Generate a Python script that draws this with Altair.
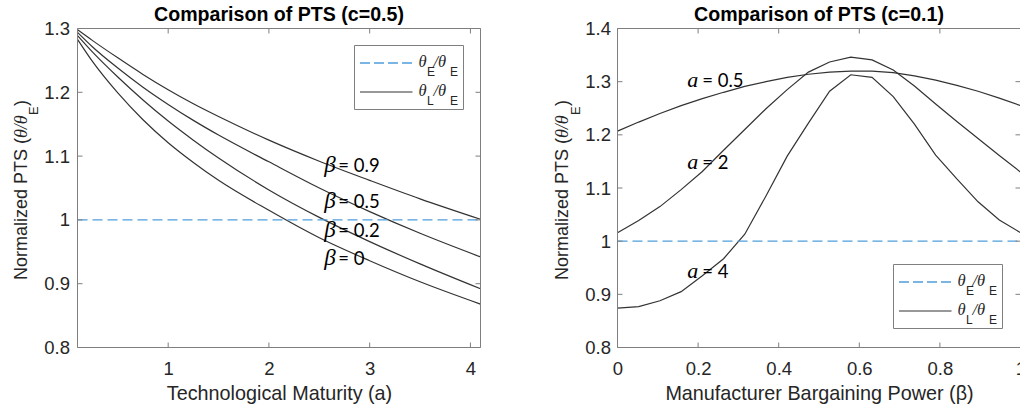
import altair as alt
import pandas as pd

# ---------------- data ----------------
# Left panel: Normalized PTS vs technological maturity a, c = 0.5
A_VALUES = [0.1, 0.25, 0.5, 0.75, 1.0, 1.25, 1.5, 2.0, 2.5, 3.0, 3.5, 4.1]
PTS_BETA_09 = [1.298, 1.281, 1.254, 1.228, 1.204, 1.182, 1.162, 1.125, 1.092, 1.062, 1.033, 1.001]
PTS_BETA_05 = [1.294, 1.271, 1.238, 1.208, 1.181, 1.156, 1.133, 1.091, 1.050, 1.013, 0.979, 0.942]
PTS_BETA_02 = [1.289, 1.263, 1.224, 1.188, 1.155, 1.125, 1.097, 1.047, 1.004, 0.966, 0.931, 0.892]
PTS_BETA_00 = [1.283, 1.248, 1.199, 1.157, 1.121, 1.090, 1.062, 1.015, 0.972, 0.936, 0.903, 0.868]
LEFT_CURVES = ["0.9", "0.5", "0.2", "0"]

# Right panel: Normalized PTS vs manufacturer bargaining power beta, c = 0.1
BETA_VALUES = [0.0, 0.0526, 0.1053, 0.1579, 0.2105, 0.2632, 0.3158, 0.3684, 0.4211, 0.4737,
               0.5263, 0.5789, 0.6316, 0.6842, 0.7368, 0.7895, 0.8421, 0.8947, 0.9474, 1.0]
PTS_A_05 = [1.207, 1.224, 1.240, 1.255, 1.268, 1.280, 1.291, 1.300, 1.308, 1.314,
            1.318, 1.320, 1.320, 1.317, 1.311, 1.303, 1.293, 1.282, 1.269, 1.255]
PTS_A_2 = [1.016, 1.039, 1.065, 1.097, 1.131, 1.171, 1.210, 1.249, 1.285, 1.318,
           1.337, 1.346, 1.341, 1.322, 1.292, 1.258, 1.225, 1.193, 1.161, 1.130]
PTS_A_4 = [0.874, 0.877, 0.888, 0.905, 0.935, 0.967, 1.013, 1.085, 1.160, 1.222,
           1.282, 1.313, 1.308, 1.272, 1.220, 1.162, 1.117, 1.074, 1.040, 1.016]
RIGHT_CURVES = ["0.5", "2", "4"]

E_RATIO = 1.0  # theta_E / theta_E

# axes
L_XDOMAIN = [0.1, 4.1]
L_YDOMAIN = [0.8, 1.3]
R_XDOMAIN = [0.0, 1.0]
R_YDOMAIN = [0.8, 1.4]
L_XTICKS = [1, 2, 3, 4]
L_YTICKS = [0.8, 0.9, 1.0, 1.1, 1.2, 1.3]
R_XTICKS = [0, 0.2, 0.4, 0.6, 0.8, 1]
R_YTICKS = [0.8, 0.9, 1.0, 1.1, 1.2, 1.3, 1.4]

# in-plot curve labels
L_LABEL_TEXT = ["= 0.9", "= 0.5", "= 0.2", "= 0"]
L_LABEL_A = [2.55, 2.55, 2.55, 2.55]
L_LABEL_V = [1.0748, 1.019, 0.9729, 0.930]
R_LABEL_TEXT = ["= 0.5", "= 2", "= 4"]
R_LABEL_B = [0.173, 0.173, 0.173]
R_LABEL_V = [1.2909, 1.1354, 0.9304]

TITLE_L = "Comparison of PTS (c=0.5)"
TITLE_R = "Comparison of PTS (c=0.1)"
XTITLE_L = "Technological Maturity (a)"
XTITLE_R = "Manufacturer Bargaining Power (β)"

# ---------------- styles ----------------
FONT = "Liberation Sans"
SERIF = "Liberation Serif"
LFONT = "Lato"
CURVE = "#333333"
BLUE = "#4f9ddb"
FRAME = "#7f7f7f"
TXT = "#262626"
PH = 319
L_RANGE = [0, 403]
R_RANGE = [540, 943]

LXS = alt.Scale(domain=L_XDOMAIN, range=L_RANGE, nice=False, zero=False)
LYS = alt.Scale(domain=L_YDOMAIN, range=[PH, 0], nice=False, zero=False)
RXS = alt.Scale(domain=R_XDOMAIN, range=R_RANGE, nice=False, zero=False)
RYS = alt.Scale(domain=R_YDOMAIN, range=[PH, 0], nice=False, zero=False)

ONE = pd.DataFrame({"k": [0]})


def xaxis(values, title):
    return alt.Axis(orient="bottom", values=values, format="~g", title=title,
                    labelFlush=False, labelPadding=12, tickSize=0, ticks=False,
                    domain=False, grid=False, titleBaseline="alphabetic", titleY=51.5,
                    labelFontSize=18.5, titleFontSize=19.8, labelFont=FONT, titleFont=FONT,
                    labelColor=TXT, titleColor=TXT, titleFontWeight="normal")


def yaxis(values, pad, offset=0):
    return alt.Axis(orient="left", values=values, format="~g", title=None, offset=offset,
                    labelPadding=pad, tickSize=0, ticks=False, domain=False, grid=False,
                    labelFontSize=18.5, labelFont=FONT, labelColor=TXT)


def long_df(xs, series, names, xname):
    rows = []
    for name, vals in zip(names, series):
        for x, v in zip(xs, vals):
            rows.append({xname: x, "v": v, "curve": name})
    return pd.DataFrame(rows)


layers = []

# ---------- left panel ----------
left_df = long_df(A_VALUES, [PTS_BETA_09, PTS_BETA_05, PTS_BETA_02, PTS_BETA_00], LEFT_CURVES, "a")
layers.append(alt.Chart(left_df).mark_line(color=CURVE, strokeWidth=1.2, interpolate="monotone").encode(
    x=alt.X("a:Q", scale=LXS, axis=xaxis(L_XTICKS, XTITLE_L)),
    y=alt.Y("v:Q", scale=LYS, axis=yaxis(L_YTICKS, 8)),
    detail="curve:N"))
left_ref = pd.DataFrame({"a": L_XDOMAIN, "v": [E_RATIO, E_RATIO]})
layers.append(alt.Chart(left_ref).mark_line(color=BLUE, strokeWidth=1.3, strokeDash=[10, 5]).encode(
    x=alt.X("a:Q", scale=LXS, axis=None), y=alt.Y("v:Q", scale=LYS, axis=None)))

# ---------- right panel ----------
right_df = long_df(BETA_VALUES, [PTS_A_05, PTS_A_2, PTS_A_4], RIGHT_CURVES, "b")
layers.append(alt.Chart(right_df).mark_line(color=CURVE, strokeWidth=1.2).encode(
    x=alt.X("b:Q", scale=RXS, axis=xaxis(R_XTICKS, XTITLE_R)),
    y=alt.Y("v:Q", scale=RYS, axis=yaxis(R_YTICKS, 7, offset=-540)),
    detail="curve:N"))
right_ref = pd.DataFrame({"b": R_XDOMAIN, "v": [E_RATIO, E_RATIO]})
layers.append(alt.Chart(right_ref).mark_line(color=BLUE, strokeWidth=1.3, strokeDash=[10, 5]).encode(
    x=alt.X("b:Q", scale=RXS, axis=None), y=alt.Y("v:Q", scale=RYS, axis=None)))


# ---------- frames and inward ticks ----------
def frame(xs, ys, xdom, ydom, xt, yt, x0, x1):
    out = []
    out.append(alt.Chart(ONE).mark_rect(fillOpacity=0, stroke=FRAME, strokeWidth=1).encode(
        x=alt.X(datum=xdom[0], scale=xs, axis=None), x2=alt.X2(datum=xdom[1]),
        y=alt.Y(datum=ydom[0], scale=ys, axis=None), y2=alt.Y2(datum=ydom[1])))
    tx = pd.DataFrame({"t": xt})
    ty = pd.DataFrame({"t": yt})
    out.append(alt.Chart(tx).mark_rule(color=FRAME, strokeWidth=1).encode(
        x=alt.X("t:Q", scale=xs, axis=None), y=alt.value(PH), y2=alt.value(PH - 5)))
    out.append(alt.Chart(tx).mark_rule(color=FRAME, strokeWidth=1).encode(
        x=alt.X("t:Q", scale=xs, axis=None), y=alt.value(0), y2=alt.value(5)))
    out.append(alt.Chart(ty).mark_rule(color=FRAME, strokeWidth=1).encode(
        y=alt.Y("t:Q", scale=ys, axis=None), x=alt.value(x0), x2=alt.value(x0 + 5)))
    out.append(alt.Chart(ty).mark_rule(color=FRAME, strokeWidth=1).encode(
        y=alt.Y("t:Q", scale=ys, axis=None), x=alt.value(x1), x2=alt.value(x1 - 5)))
    return out


layers += frame(LXS, LYS, L_XDOMAIN, L_YDOMAIN, L_XTICKS, L_YTICKS, L_RANGE[0], L_RANGE[1])
layers += frame(RXS, RYS, R_XDOMAIN, R_YDOMAIN, R_XTICKS, R_YTICKS, R_RANGE[0], R_RANGE[1])

# ---------- curve labels ----------
llab = pd.DataFrame({"a": L_LABEL_A, "v": L_LABEL_V, "t": L_LABEL_TEXT})
layers.append(alt.Chart(llab).mark_text(text="β", font=SERIF, fontStyle="italic", fontSize=23,
                                        align="left", baseline="alphabetic", color="#000000").encode(
    x=alt.X("a:Q", scale=LXS, axis=None), y=alt.Y("v:Q", scale=LYS, axis=None)))
layers.append(alt.Chart(llab).mark_text(font=LFONT, fontSize=18.5, dx=14, align="left",
                                        baseline="alphabetic", color="#000000").encode(
    x=alt.X("a:Q", scale=LXS, axis=None), y=alt.Y("v:Q", scale=LYS, axis=None), text="t:N"))
rlab = pd.DataFrame({"b": R_LABEL_B, "v": R_LABEL_V, "t": R_LABEL_TEXT})
layers.append(alt.Chart(rlab).mark_text(text="a", font=SERIF, fontStyle="italic", fontSize=22,
                                        align="left", baseline="alphabetic", color="#000000").encode(
    x=alt.X("b:Q", scale=RXS, axis=None), y=alt.Y("v:Q", scale=RYS, axis=None)))
layers.append(alt.Chart(rlab).mark_text(font=LFONT, fontSize=18.5, dx=15, align="left",
                                        baseline="alphabetic", color="#000000").encode(
    x=alt.X("b:Q", scale=RXS, axis=None), y=alt.Y("v:Q", scale=RYS, axis=None), text="t:N"))


# ---------- text helpers ----------
def txt(s, x, y, font=FONT, size=18, style="normal", weight="normal", align="left",
        angle=0, color=TXT):
    return alt.Chart(ONE).mark_text(text=s, font=font, fontSize=size, fontStyle=style,
                                    fontWeight=weight, align=align, baseline="alphabetic",
                                    angle=angle, color=color).encode(
        x=alt.value(x), y=alt.value(y))


# titles
layers.append(txt(TITLE_L, 201.5, -7.8, size=19.6, weight="bold", align="center", color="#000000"))
layers.append(txt(TITLE_R, 741.5, -7.8, size=19.6, weight="bold", align="center", color="#000000"))


# y-axis titles: Normalized PTS (θ/θ_E)
def ytitle(xb):
    return [
        txt("Normalized PTS (", xb, 109.5, align="right", angle=270),
        txt("θ/θ", xb, 109.5, font=SERIF, style="italic", align="left", angle=270),
        txt("E", xb + 11.5, 86.5, size=13, align="left", angle=270),
        txt(")", xb, 77.5, align="left", angle=270),
    ]


layers += ytitle(-50.8)
layers += ytitle(490.5)


# ---------- legends ----------
def legend(x0, y0):
    out = []
    out.append(alt.Chart(ONE).mark_rect(fill="white", stroke=FRAME, strokeWidth=1).encode(
        x=alt.value(x0), x2=alt.value(x0 + 109), y=alt.value(y0), y2=alt.value(y0 + 64)))
    out.append(alt.Chart(ONE).mark_rule(color=BLUE, strokeWidth=1.3, strokeDash=[10, 4]).encode(
        x=alt.value(x0 + 5.5), x2=alt.value(x0 + 58), y=alt.value(y0 + 17.5)))
    out.append(alt.Chart(ONE).mark_rule(color=CURVE, strokeWidth=1.2).encode(
        x=alt.value(x0 + 5.5), x2=alt.value(x0 + 58), y=alt.value(y0 + 46.5)))
    for row, sub in ((0, "E"), (1, "L")):
        yb = y0 + 21.5 + row * 29
        out.append(txt("θ", x0 + 64, yb, font=SERIF, style="italic", size=16.5))
        out.append(txt(sub, x0 + 72.5, yb + 8.5, size=12))
        out.append(txt("/θ", x0 + 79, yb, font=SERIF, style="italic", size=16.5))
        out.append(txt("E", x0 + 95.5, yb + 8.5, size=12))
    return out


layers += legend(277, 17)
layers += legend(816, 236)

chart = alt.layer(*layers).resolve_scale(x="independent", y="independent").properties(
    width=942, height=PH,
    padding={"left": 77.5, "top": 28.5, "right": 0.5, "bottom": 62.5},
    autosize=alt.AutoSizeParams(type="none"),
    background="white",
).configure_view(stroke=None)

chart.save("out.html", embed_options={"renderer": "svg", "actions": False})
